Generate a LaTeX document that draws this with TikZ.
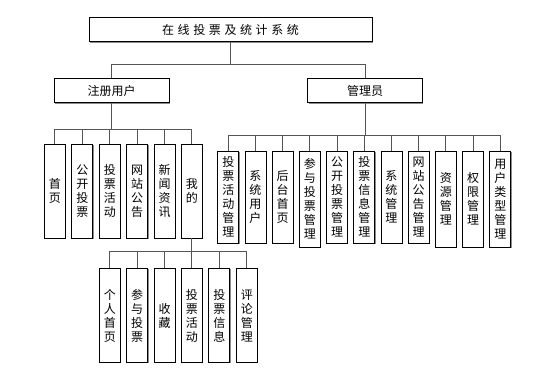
\documentclass[tikz,border=0pt]{standalone}
\usepackage{fontspec}
\usepackage{tikz}
\usetikzlibrary{positioning,shadows}
\newfontfamily\cjk{Noto Sans CJK SC}
\newfontfamily\cjkwide[LetterSpace=30]{Noto Sans CJK SC}
\definecolor{linegray}{RGB}{85,85,85}
\tikzset{box/.style={draw=black, line width=0.9bp, fill=white, inner sep=0pt, align=center, drop shadow={shadow xshift=0.9bp, shadow yshift=-0.9bp, fill=black!45, opacity=1}}, wbox/.style={box, minimum width=114.7bp, minimum height=24.4bp}, col/.style={box, minimum width=21bp, minimum height=94bp}, acol/.style={box, minimum width=21bp, minimum height=92bp, anchor=north west}, tcol/.style={acol, minimum height=96bp}, conn/.style={draw=linegray, line width=1bp}}

\begin{document}
\begin{tikzpicture}[x=1bp,y=-1bp,font=\cjk\fontsize{12bp}{14bp}\selectfont,node distance=5.5bp]
\useasboundingbox (0,0) rectangle (541,385);
\node[box,minimum width=283bp,minimum height=24.4bp] (root) at (230.5,29.5) {\cjkwide 在线投票及统计系统};
\node[wbox] (reg) at (111.7,90.5) {注册用户};
\node[wbox] (adm) at (365,90.5) {管理员};
% registered user
\node[col,anchor=north west] (u1) at (44,143.5) {首\\页};
\node[col,right=of u1] (u2) {公\\开\\投\\票};
\node[col,right=of u2] (u3) {投\\票\\活\\动};
\node[col,right=of u3] (u4) {网\\站\\公\\告};
\node[col,right=of u4] (u5) {新\\闻\\资\\讯};
\node[col,right=of u5] (u6) {我\\的};
\node[col,below=29.7bp of u3] (m1) {个\\人\\首\\页};
\node[col,right=of m1] (m2) {参\\与\\投\\票};
\node[col,right=of m2] (m3) {收\\藏};
\node[col,right=of m3] (m4) {投\\票\\活\\动};
\node[col,right=of m4] (m5) {投\\票\\信\\息};
\node[col,right=of m5] (m6) {评\\论\\管\\理};
% admin
\node[acol] (a1) at (217.3,150.5) {投\\票\\活\\动\\管\\理};
\node[right=5.3bp of a1.north east,acol] (a2) {系\\统\\用\\户};
\node[right=5.3bp of a2.north east,acol] (a3) {后\\台\\首\\页};
\node[right=5.3bp of a3.north east,tcol] (a4) {参\\与\\投\\票\\管\\理};
\node[right=5.3bp of a4.north east,acol] (a5) {公\\开\\投\\票\\管\\理};
\node[right=5.3bp of a5.north east,acol] (a6) {投\\票\\信\\息\\管\\理};
\node[right=5.3bp of a6.north east,acol] (a7) {系\\统\\管\\理};
\node[right=5.3bp of a7.north east,acol] (a8) {网\\站\\公\\告\\管\\理};
\node[right=5.3bp of a8.north east,tcol] (a9) {资\\源\\管\\理};
\node[right=5.3bp of a9.north east,tcol] (a10) {权\\限\\管\\理};
\node[right=5.3bp of a10.north east,tcol] (a11) {用\\户\\类\\型\\管\\理};
\draw[conn] (root.south) -- ++(0,23.3); \draw[conn] (reg.north) -- ++(0,-13.3) -| (adm.north);
\draw[conn] (reg.south) -- ++(0,26.3); \draw[conn] (u1.north) -- ++(0,-14.5) -| (u6.north);
\draw[conn] (u2.north) -- ++(0,-14.5); \draw[conn] (u3.north) -- ++(0,-14.5); \draw[conn] (u4.north) -- ++(0,-14.5); \draw[conn] (u5.north) -- ++(0,-14.5);
\draw[conn] (u6.south) -- ++(0,13); \draw[conn] (m1.north) -- ++(0,-16.7) -| (m6.north);
\draw[conn] (m2.north) -- ++(0,-16.7); \draw[conn] (m3.north) -- ++(0,-16.7); \draw[conn] (m4.north) -- ++(0,-16.7); \draw[conn] (m5.north) -- ++(0,-16.7);
\draw[conn] (adm.south) -- ++(0,32.3); \draw[conn] (a1.north) -- ++(0,-15.5) -| (a11.north);
\draw[conn] (a2.north) -- ++(0,-15.5); \draw[conn] (a3.north) -- ++(0,-15.5); \draw[conn] (a4.north) -- ++(0,-15.5); \draw[conn] (a5.north) -- ++(0,-15.5);
\draw[conn] (a6.north) -- ++(0,-15.5); \draw[conn] (a7.north) -- ++(0,-15.5); \draw[conn] (a8.north) -- ++(0,-15.5); \draw[conn] (a9.north) -- ++(0,-15.5); \draw[conn] (a10.north) -- ++(0,-15.5);
\end{tikzpicture}
\end{document}
